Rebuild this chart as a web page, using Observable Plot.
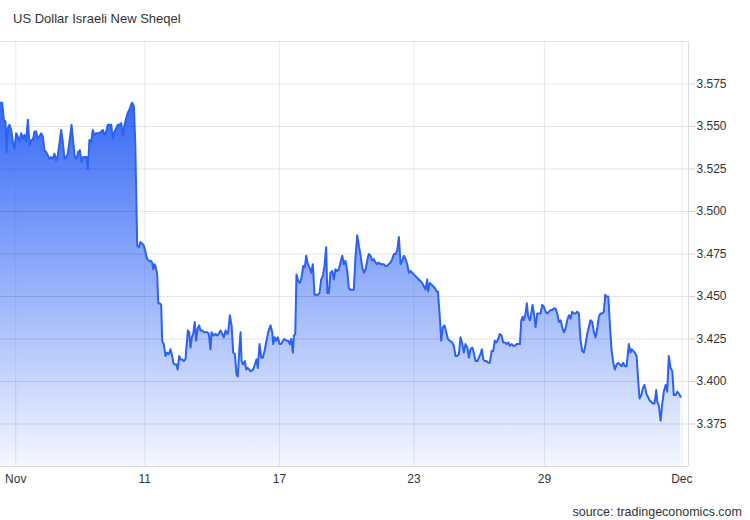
<!DOCTYPE html>
<html><head><meta charset="utf-8">
<script src="https://cdn.jsdelivr.net/npm/d3@7"></script>
<script src="https://cdn.jsdelivr.net/npm/@observablehq/plot@0.6"></script>
<style>
body{margin:0;background:#fff;font-family:"Liberation Sans",Arial,sans-serif;}
#wrap{position:relative;width:750px;height:520px;overflow:hidden;}
#title{position:absolute;left:13px;top:11px;font-size:13px;color:#333;}
#chart{position:absolute;left:0;top:39px;}
#source{position:absolute;right:8px;top:505px;font-size:12.5px;color:#333;}
</style></head>
<body><div id="wrap"><div id="title">US Dollar Israeli New Sheqel</div><div id="chart"></div><div id="source">source: tradingeconomics.com</div></div>
<script>
// trading hours since start of the window (weekends removed)
const hours = [
0.0,1.2,2.4,3.6,4.3,5.3,6.5,7.7,8.9,10.1,
11.3,12.5,13.7,14.9,16.1,17.3,18.5,19.7,20.9,22.1,
23.3,24.5,25.7,26.9,28.1,29.3,30.5,31.7,32.9,34.1,
35.3,36.5,37.7,38.9,40.1,41.3,42.5,43.7,44.9,46.1,
47.4,48.5,49.7,51.2,52.4,53.5,54.8,56.0,57.2,58.4,
59.6,60.8,62.0,62.9,64.1,65.4,66.5,67.7,69.0,70.1,
71.3,72.6,73.7,75.0,76.2,77.3,78.6,79.8,80.9,82.2,
83.4,84.5,85.8,87.0,88.1,89.4,90.6,91.7,93.0,94.2,
94.9,96.1,97.1,98.5,99.7,100.9,102.1,103.3,104.5,105.7,
106.9,108.1,109.3,110.1,111.0,111.7,112.9,113.7,114.8,115.8,
116.5,117.7,118.9,120.1,121.3,122.5,123.7,124.5,125.6,126.8,
127.6,128.8,129.7,131.0,132.1,133.3,135.0,136.0,136.9,137.9,
138.9,140.0,141.0,142.0,143.2,144.1,145.4,146.5,147.7,149.0,
150.1,151.3,152.1,153.7,155.0,156.2,157.3,158.6,159.8,160.9,
162.2,163.4,164.1,165.3,166.5,167.7,168.9,170.1,171.0,172.2,
173.0,173.7,174.9,176.1,177.1,178.2,180.2,182.1,183.3,184.5,
185.4,186.7,187.9,189.0,190.3,191.7,192.9,194.6,195.8,196.5,
197.5,198.7,199.9,201.1,202.3,203.5,204.7,206.1,207.3,208.5,
209.5,210.7,211.4,212.4,213.3,214.6,215.7,216.9,218.2,219.3,
220.3,221.5,222.7,223.9,225.1,226.3,227.5,228.7,229.9,231.1,
232.3,233.5,234.7,235.5,236.6,237.8,239.1,240.2,241.4,242.7,
243.8,245.0,246.3,247.4,248.6,249.9,251.0,252.2,253.5,254.6,
255.8,257.1,258.2,259.5,260.7,261.8,263.1,264.3,265.4,266.7,
267.9,269.0,270.3,271.5,272.6,273.9,275.1,276.2,277.5,278.7,
279.8,281.1,282.3,283.5,284.7,285.9,287.1,288.3,289.5,290.7,
291.9,293.1,294.3,295.5,296.7,297.9,299.1,300.3,301.5,302.7,
303.9,305.1,306.3,307.5,308.2,309.4,310.6,311.8,313.0,314.2,
315.2,316.4,317.6,318.8,320.0,321.2,322.4,323.8,325.5,326.7,
327.9,329.1,330.3,331.5,332.8,333.9,335.1,336.4,337.5,338.7,
340.0,341.1,342.3,343.6,344.7,345.9,346.9,347.9,349.0,350.3,
351.5,352.6,353.9,355.1,356.2,357.5,358.7,359.8,361.1,362.3,
363.5,364.7,365.9,367.1,368.3,369.5,370.7,371.9,373.1,374.3,
375.3,376.2,377.1,378.4,379.3,380.3,381.5,382.5,383.4,384.4,
385.6,386.8,388.0,389.2,390.4,391.6,392.8,394.0,395.2,396.4,
397.6,398.8,400.0,401.2,402.4,403.6,404.8,406.0,407.2,408.4,
409.6,410.8,412.0,413.2,414.4,415.6,416.8,418.0,419.2,420.4,
421.6,422.8,424.0,425.2,426.4,427.6,428.8,430.0,431.2,432.4,
433.6,434.8,435.8,436.7,438.0,439.1,440.3,441.6,442.7,444.0,
445.2,446.3,447.6,448.8,449.9,451.2,452.8,454.0,454.8,456.0,
457.1,458.4,459.6,460.5,461.8,462.9,464.1,465.4,466.5,467.7,
469.0,470.1,471.3,472.6,473.3,474.4,475.7,476.9,478.0,479.3,
480.5,481.6,482.9,484.1,485.2,486.5,487.7,488.8,490.1
];
// USD/ILS rate
const rates = [
3.564,3.564,3.554,3.553,3.535,3.549,3.551,3.548,3.541,3.537,
3.546,3.544,3.541,3.546,3.543,3.545,3.541,3.554,3.539,3.542,
3.542,3.547,3.547,3.543,3.544,3.546,3.544,3.536,3.535,3.533,
3.531,3.532,3.531,3.534,3.530,3.533,3.540,3.548,3.541,3.531,
3.532,3.534,3.541,3.551,3.541,3.532,3.531,3.535,3.536,3.529,
3.532,3.532,3.532,3.525,3.542,3.541,3.548,3.545,3.546,3.546,
3.546,3.547,3.548,3.545,3.547,3.551,3.551,3.551,3.543,3.547,
3.549,3.551,3.551,3.552,3.545,3.551,3.555,3.558,3.560,3.563,
3.564,3.562,3.541,3.480,3.479,3.482,3.481,3.480,3.476,3.472,
3.471,3.471,3.470,3.466,3.469,3.468,3.463,3.446,3.446,3.445,
3.424,3.422,3.415,3.417,3.416,3.419,3.415,3.411,3.410,3.410,
3.407,3.415,3.413,3.413,3.412,3.413,3.430,3.429,3.420,3.426,
3.428,3.435,3.424,3.431,3.433,3.430,3.430,3.429,3.429,3.429,
3.428,3.419,3.429,3.427,3.428,3.427,3.428,3.430,3.428,3.426,
3.430,3.428,3.429,3.439,3.433,3.417,3.416,3.404,3.403,3.420,
3.429,3.412,3.410,3.412,3.407,3.408,3.406,3.407,3.410,3.413,
3.408,3.422,3.414,3.414,3.418,3.424,3.429,3.433,3.429,3.422,
3.426,3.424,3.426,3.422,3.422,3.424,3.425,3.424,3.424,3.422,
3.425,3.417,3.427,3.428,3.463,3.459,3.458,3.461,3.468,3.467,
3.474,3.469,3.467,3.464,3.469,3.451,3.451,3.451,3.452,3.460,
3.462,3.468,3.479,3.452,3.452,3.464,3.465,3.460,3.466,3.465,
3.466,3.470,3.474,3.469,3.471,3.465,3.455,3.454,3.454,3.454,
3.473,3.486,3.480,3.474,3.467,3.464,3.466,3.471,3.475,3.474,
3.471,3.472,3.470,3.469,3.470,3.469,3.469,3.469,3.468,3.468,
3.469,3.470,3.472,3.475,3.475,3.477,3.485,3.469,3.471,3.474,
3.472,3.469,3.464,3.465,3.464,3.463,3.462,3.461,3.460,3.459,
3.458,3.456,3.454,3.460,3.453,3.458,3.457,3.456,3.455,3.453,
3.453,3.440,3.424,3.432,3.433,3.429,3.425,3.424,3.423,3.421,
3.415,3.415,3.416,3.426,3.422,3.417,3.422,3.420,3.414,3.419,
3.420,3.417,3.412,3.412,3.414,3.416,3.419,3.413,3.412,3.412,
3.411,3.411,3.418,3.418,3.424,3.423,3.425,3.428,3.427,3.423,
3.423,3.422,3.423,3.421,3.422,3.421,3.421,3.422,3.422,3.422,
3.436,3.438,3.436,3.440,3.446,3.438,3.436,3.440,3.445,3.440,
3.432,3.440,3.440,3.440,3.445,3.444,3.441,3.440,3.441,3.442,
3.442,3.443,3.443,3.440,3.435,3.436,3.432,3.429,3.431,3.436,
3.439,3.437,3.441,3.440,3.440,3.441,3.440,3.424,3.418,3.417,
3.422,3.428,3.432,3.436,3.435,3.429,3.426,3.431,3.438,3.440,
3.440,3.441,3.451,3.450,3.450,3.434,3.419,3.411,3.407,3.410,
3.411,3.410,3.409,3.411,3.409,3.409,3.422,3.417,3.419,3.418,
3.417,3.415,3.400,3.390,3.392,3.396,3.398,3.393,3.391,3.389,
3.388,3.387,3.387,3.395,3.388,3.386,3.377,3.387,3.394,3.398,
3.394,3.415,3.408,3.406,3.392,3.392,3.394,3.393,3.391
];
const tickHours = [11, 104, 201, 298, 392, 491];
const tickLabels = ["Nov", "11", "17", "23", "29", "Dec"];
const yTicks = [3.375, 3.4, 3.425, 3.45, 3.475, 3.5, 3.525, 3.55, 3.575];
const yDomain = [3.35, 3.6];
const xDomain = [0, 495.8];

const n = Math.min(hours.length, rates.length);
const data = d3.range(n).map(i => ({h: hours[i], v: rates[i]}));
const labelOf = new Map(tickHours.map((h, i) => [h, tickLabels[i]]));

const gradientDefs = () => {
  const ns = "http://www.w3.org/2000/svg";
  const defs = document.createElementNS(ns, "defs");
  const lg = document.createElementNS(ns, "linearGradient");
  lg.setAttribute("id", "fillGrad");
  lg.setAttribute("x1", "0"); lg.setAttribute("y1", "0");
  lg.setAttribute("x2", "0"); lg.setAttribute("y2", "1");
  [["0", 0.97], ["0.45", 0.55], ["1", 0.05]].forEach(([o, op]) => {
    const s = document.createElementNS(ns, "stop");
    s.setAttribute("offset", o);
    s.setAttribute("stop-color", "#2f64f6");
    s.setAttribute("stop-opacity", op);
    lg.appendChild(s);
  });
  defs.appendChild(lg);
  return defs;
};

const chart = Plot.plot({
  width: 750,
  height: 456,
  marginTop: 2,
  marginBottom: 29,
  marginLeft: 0,
  marginRight: 62,
  style: {fontFamily: "'Liberation Sans', Arial, sans-serif", fontSize: "12px", color: "#333", background: "#fff"},
  x: {domain: xDomain, axis: null},
  y: {domain: yDomain, axis: null},
  marks: [
    gradientDefs,
    Plot.ruleX(tickHours, {stroke: "#e4eaf3", strokeWidth: 1}),
    Plot.areaY(data, {x: "h", y1: yDomain[0], y2: "v", fill: "url(#fillGrad)", curve: "linear"}),
    Plot.ruleY([...yTicks, yDomain[1]], {stroke: "#000", strokeOpacity: 0.1}),
    Plot.lineY(data, {x: "h", y: "v", stroke: "#2b62f4", strokeWidth: 2, curve: "linear"}),
    Plot.ruleX([xDomain[1]], {stroke: "#dcdcdc"}),
    Plot.ruleY([yDomain[0]], {stroke: "#dcdcdc"}),
    Plot.axisY(yTicks, {anchor: "right", label: null, tickSize: 6, tickPadding: 2, tickFormat: d3.format(".3f"), stroke: "#cfcfcf", fill: "#333", fontSize: 12}),
    Plot.axisX(tickHours, {anchor: "bottom", label: null, tickSize: 0, tickPadding: 8, tickFormat: d => labelOf.get(d), fill: "#333", fontSize: 12})
  ]
});
document.getElementById("chart").appendChild(chart);
</script>
</body></html>
